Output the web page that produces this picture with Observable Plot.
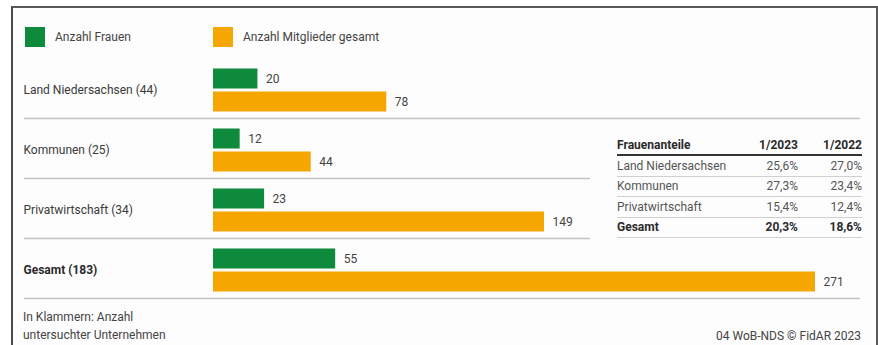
<!DOCTYPE html>
<html>
<head>
<meta charset="utf-8">
<script src="https://cdn.jsdelivr.net/npm/d3@7"></script>
<script src="https://cdn.jsdelivr.net/npm/@observablehq/plot@0.6"></script>
<style>
html, body { margin: 0; padding: 0; background: #fff; }
#wrap { position: relative; width: 878px; height: 345px; overflow: hidden; font-family: Roboto, sans-serif; color: #3a3a3a; }
#box { position: absolute; left: 11px; top: 6px; width: 863px; height: 345px; border-left: 2px solid #4a4a4a; border-top: 2px solid #5a5a5a; border-right: 2px solid #5a5a5a; background: #fdfdfd; }
#chart { position: absolute; left: 0; top: 0; }
.t { position: absolute; font-size: 12px; line-height: 14px; white-space: nowrap; }
.sw { position: absolute; width: 20px; height: 20px; }
#tbl { position: absolute; left: 617px; top: 138px; width: 245px; border-collapse: collapse; font-size: 12px; color: #555; }
#tbl td, #tbl th { padding: 0; height: 19.5px; line-height: 14px; border-bottom: 1px solid #d0d0d0; white-space: nowrap; }
#tbl th { font-weight: bold; color: #2a2a2a; border-bottom: 2px solid #333; height: 16px; vertical-align: top; }
#tbl .num { text-align: right; }
#tbl tr.bold td { font-weight: bold; color: #2a2a2a; }
</style>
</head>
<body>
<div id="wrap">
  <div id="box"></div>
  <div id="chart"></div>
</div>
<script>
// ---- data ----
const categories = ["Land Niedersachsen (44)", "Kommunen (25)", "Privatwirtschaft (34)", "Gesamt (183)"];
const frauen = [20, 12, 23, 55];
const gesamt = [78, 44, 149, 271];
const seriesNames = ["Anzahl Frauen", "Anzahl Mitglieder gesamt"];
const seriesColors = ["#0e8a3c", "#f5a600"];
const tableHeader = ["Frauenanteile", "1/2023", "1/2022"];
const tableLabels = ["Land Niedersachsen", "Kommunen", "Privatwirtschaft", "Gesamt"];
const share2023 = ["25,6%", "27,3%", "15,4%", "20,3%"];
const share2022 = ["27,0%", "23,4%", "12,4%", "18,6%"];
const footnoteLines = ["In Klammern: Anzahl", "untersuchter Unternehmen"];
const sourceText = "04 WoB-NDS © FidAR 2023";

const rows = categories.map((c, i) => ({
  cat: c, frauen: frauen[i], gesamt: gesamt[i],
  total: i === categories.length - 1,
  wide: i === 0 || i === categories.length - 1
}));

const plot = Plot.plot({
  width: 878,
  height: 345,
  margin: 0,
  style: { background: "transparent", fontFamily: "Roboto, sans-serif", fontSize: "12px", color: "#3a3a3a" },
  x: { domain: [0, d3.max(gesamt)], range: [213, 815], axis: null },
  y: { domain: categories, range: [59.5, 299.5], padding: 0, axis: null },
  marks: [
    Plot.ruleY(rows.filter(d => d.wide), { y: "cat", dy: 28, stroke: "#c2c2c2", strokeWidth: 1.5, insetLeft: 24, insetRight: 18 }),
    Plot.ruleY(rows.filter(d => !d.wide), { y: "cat", dy: 28, stroke: "#c2c2c2", strokeWidth: 1.5, insetLeft: 24, insetRight: 288 }),
    Plot.barX(rows, { x: "frauen", y: "cat", fill: seriesColors[0], insetTop: 8.5, insetBottom: 31.5 }),
    Plot.barX(rows, { x: "gesamt", y: "cat", fill: seriesColors[1], insetTop: 31.5, insetBottom: 8.5 }),
    Plot.text(rows, { x: "frauen", y: "cat", text: "frauen", dx: 8, dy: -11.5, textAnchor: "start", fill: "#444" }),
    Plot.text(rows, { x: "gesamt", y: "cat", text: "gesamt", dx: 8, dy: 11.5, textAnchor: "start", fill: "#444" }),
    Plot.text(rows.filter(d => !d.total), { y: "cat", text: "cat", frameAnchor: "left", dx: 23, textAnchor: "start", fill: "#3a3a3a" }),
    Plot.text(rows.filter(d => d.total), { y: "cat", text: "cat", frameAnchor: "left", dx: 23, textAnchor: "start", fill: "#2a2a2a", fontWeight: "bold" })
  ]
});
document.getElementById("chart").appendChild(plot);

const wrap = document.getElementById("wrap");
function addText(txt, left, top, extra) {
  const d = document.createElement("div");
  d.className = "t";
  d.textContent = txt;
  d.style.left = left + "px";
  d.style.top = top + "px";
  if (extra) Object.assign(d.style, extra);
  wrap.appendChild(d);
  return d;
}
// legend
const legendX = [25, 213];
seriesNames.forEach((name, i) => {
  const sw = document.createElement("div");
  sw.className = "sw";
  sw.style.left = legendX[i] + "px";
  sw.style.top = "27px";
  sw.style.background = seriesColors[i];
  wrap.appendChild(sw);
  addText(name, legendX[i] + 30, 30, { color: "#444" });
});
// table
const tbl = document.createElement("table");
tbl.id = "tbl";
const hr = document.createElement("tr");
tableHeader.forEach((h, j) => {
  const th = document.createElement("th");
  th.textContent = h;
  th.style.textAlign = j === 0 ? "left" : "right";
  if (j === 1) th.style.width = "60px";
  if (j === 2) th.style.width = "64px";
  hr.appendChild(th);
});
tbl.appendChild(hr);
tableLabels.forEach((lab, i) => {
  const tr = document.createElement("tr");
  if (i === tableLabels.length - 1) tr.className = "bold";
  [lab, share2023[i], share2022[i]].forEach((v, j) => {
    const td = document.createElement("td");
    td.textContent = v;
    if (j > 0) td.className = "num";
    tr.appendChild(td);
  });
  tbl.appendChild(tr);
});
wrap.appendChild(tbl);
// footnotes
footnoteLines.forEach((line, i) => addText(line, 23, 310 + i * 18, { color: "#444" }));
addText(sourceText, 0, 329, { left: "auto", right: "17px", color: "#444" });
</script>
</body>
</html>
